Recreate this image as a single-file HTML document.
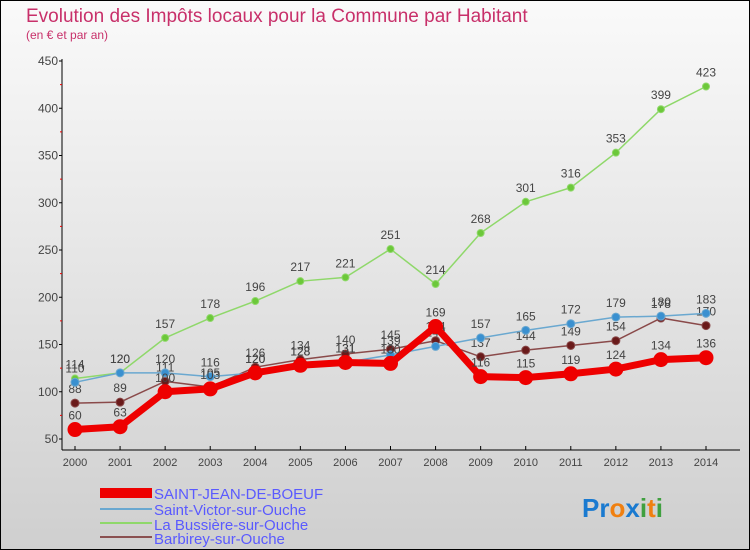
<!DOCTYPE html>
<html><head><meta charset="utf-8"><style>
body{margin:0;}
#wrap{position:relative;width:750px;height:550px;overflow:hidden;font-family:"Liberation Sans",sans-serif;}
</style></head><body>
<div id="wrap">
<svg id="svg" width="750" height="550" xmlns="http://www.w3.org/2000/svg">
<defs><linearGradient id="bg" x1="0" y1="0" x2="0" y2="1"><stop offset="0" stop-color="#fafafa"/><stop offset="1" stop-color="#cfcfcf"/></linearGradient></defs>
<rect x="0.5" y="0.5" width="749" height="549" fill="url(#bg)" stroke="#000"/>
<text x="26" y="22" font-size="19" fill="#c8306a">Evolution des Impôts locaux pour la Commune par Habitant</text>
<text x="26" y="39" font-size="12" fill="#c8306a">(en € et par an)</text>
<g id="axes"></g><g id="series"></g>
<g>
<rect x="100" y="488" width="52" height="10" fill="#e00"/>
<line x1="100" y1="509" x2="152" y2="509" stroke="#6aa8d0" stroke-width="2"/>
<line x1="100" y1="523" x2="152" y2="523" stroke="#8fd86a" stroke-width="2"/>
<line x1="100" y1="537" x2="152" y2="537" stroke="#8a5050" stroke-width="2"/>
<text x="154" y="499" font-size="15" fill="#5a5aff">SAINT-JEAN-DE-BOEUF</text>
<text x="154" y="515" font-size="15" fill="#5a5aff">Saint-Victor-sur-Ouche</text>
<text x="154" y="530" font-size="15" fill="#5a5aff">La Bussière-sur-Ouche</text>
<text x="154" y="544" font-size="15" fill="#5a5aff">Barbirey-sur-Ouche</text>
</g>
<text x="582" y="517" font-size="26" font-weight="bold"><tspan fill="#1a7ad0">Pr</tspan><tspan fill="#f08010">o</tspan><tspan fill="#1a7ad0">x</tspan><tspan fill="#40a040">i</tspan><tspan fill="#f08010">t</tspan><tspan fill="#40a040">i</tspan></text>
</svg></div>
<script>
const years=[2000,2001,2002,2003,2004,2005,2006,2007,2008,2009,2010,2011,2012,2013,2014];
const yTicks=[50,100,150,200,250,300,350,400,450];
const saintJean=[60,63,100,103,120,128,131,130,169,116,115,119,124,134,136];
const saintVictor=[110,120,120,116,120,128,131,139,148,157,165,172,179,180,183];
const bussiere=[114,120,157,178,196,217,221,251,214,268,301,316,353,399,423];
const barbirey=[88,89,111,105,126,134,140,145,154,137,144,149,154,178,170];
const NS="http://www.w3.org/2000/svg";
const X0=75,X1=706,Y0=439,Y1=61,VMIN=50,VMAX=450,AX=62,AY=450;
const xs=i=>X0+(X1-X0)*i/(years.length-1);
const ys=v=>Y0-(v-VMIN)*(Y0-Y1)/(VMAX-VMIN);
function mk(tag,attrs,parent){const e=document.createElementNS(NS,tag);for(const k in attrs)e.setAttribute(k,attrs[k]);parent.appendChild(e);return e;}
const axes=document.getElementById('axes'),ser=document.getElementById('series');
let yl=mk('line',{x1:AX,y1:Y1-2,x2:AX,y2:AY,stroke:'#000'},axes);


let xl=mk('line',{x1:AX,y1:AY,x2:740,y2:AY,stroke:'#000'},axes);


yTicks.forEach((v,k)=>{const y=ys(v);
mk('line',{x1:AX-3,y1:y,x2:AX,y2:y,stroke:'#000'},axes);
if(k<yTicks.length-1){const ym=ys(v+25);mk('line',{x1:AX-2,y1:ym,x2:AX,y2:ym,stroke:'#e00'},axes);}
const t=mk('text',{x:AX-4,y:y+4,'font-size':12,fill:'#444','text-anchor':'end'},axes);t.textContent=v;

});
years.forEach((yr,i)=>{const x=xs(i);
mk('line',{x1:x,y1:AY,x2:x,y2:AY-4,stroke:'#000'},axes);
const t=mk('text',{x:x,y:AY+16,'font-size':11,fill:'#444','text-anchor':'middle'},axes);t.textContent=yr;

});
function series(vals,color,dot,w,r,name){
const g=mk('g',{},ser);


mk('polyline',{points:vals.map((v,i)=>xs(i)+','+ys(v)).join(' '),fill:'none',stroke:color,'stroke-width':w,'stroke-linejoin':'round'},g);
vals.forEach((v,i)=>{const c=mk('circle',{cx:xs(i),cy:ys(v),r:r,fill:dot,stroke:color,'stroke-width':1},g);


const t=mk('text',{x:xs(i),y:ys(v)-10,'font-size':12,fill:'#444','text-anchor':'middle'},g);t.textContent=v;

});}
series(bussiere,'#8fd86a','#6cc83a',1.5,3.5,'series-bussiere');
series(barbirey,'#8a4a4a','#6a1a1a',1.5,4,'series-barbirey');
series(saintVictor,'#6aa8d0','#3a90d0',1.5,4,'series-saint-victor');
series(saintJean,'#ee0000','#ee0000',7,7,'series-saint-jean');
</script>
</body></html>
